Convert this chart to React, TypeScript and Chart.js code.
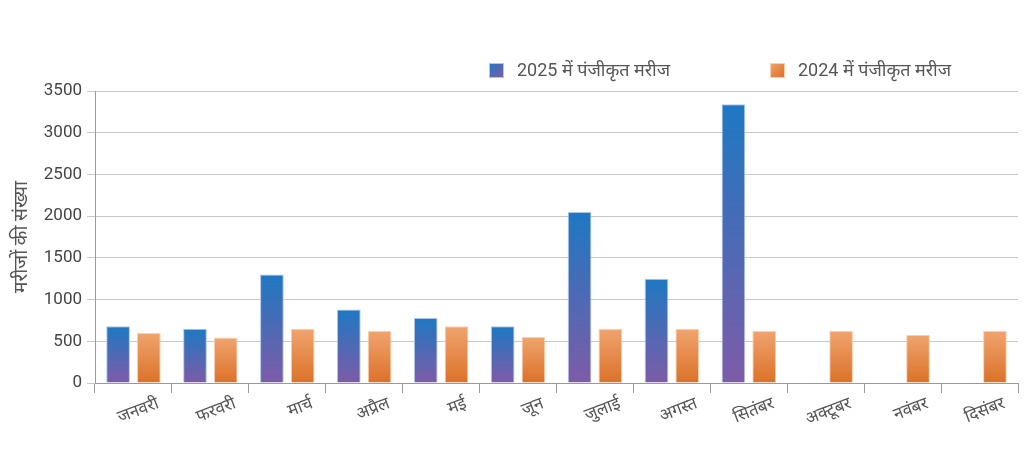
import React, { useEffect, useRef } from "react";
import { Chart, registerables } from "chart.js";

Chart.register(...registerables);

const months = ["जनवरी", "फरवरी", "मार्च", "अप्रैल", "मई", "जून", "जुलाई", "अगस्त", "सितंबर", "अक्टूबर", "नवंबर", "दिसंबर"];
const series2025Label = "2025 में पंजीकृत मरीज";
const series2024Label = "2024 में पंजीकृत मरीज";
const values2025: (number | null)[] = [680, 650, 1300, 880, 780, 680, 2050, 1250, 3340, null, null, null];
const values2024: number[] = [600, 545, 650, 625, 680, 550, 650, 650, 625, 625, 575, 625];
const yTitle = "मरीजों की संख्या";

const FONT = "Roboto, 'Noto Sans', sans-serif";
const C2025 = { top: "#1E78C2", bottom: "#7E5BA7", border: "rgba(170,195,235,0.95)" };
const C2024 = { top: "#F0A46F", bottom: "#DB7128", border: "rgba(250,205,170,0.95)" };

function barGradient(colors: { top: string; bottom: string }) {
  return (ctx: any) => {
    const chart = ctx.chart;
    const area = chart.chartArea;
    if (!area || ctx.type !== "data" || ctx.raw == null) return colors.top;
    const y = chart.scales.y;
    const yTop = y.getPixelForValue(ctx.raw);
    const yBot = y.getPixelForValue(0);
    const g = chart.ctx.createLinearGradient(0, yTop, 0, yBot);
    g.addColorStop(0, colors.top);
    g.addColorStop(1, colors.bottom);
    return g;
  };
}

const legendPlugin = {
  id: "customLegend",
  afterDraw(chart: any) {
    const ctx = chart.ctx;
    const items = [
      { x: 489, label: series2025Label, c: C2025 },
      { x: 770, label: series2024Label, c: C2024 },
    ];
    ctx.save();
    items.forEach((it) => {
      const g = ctx.createLinearGradient(it.x, 63, it.x + 14, 77);
      g.addColorStop(0, it.c.top);
      g.addColorStop(1, it.c.bottom);
      ctx.fillStyle = it.c.border;
      ctx.fillRect(it.x, 63, 15, 15);
      ctx.fillStyle = g;
      ctx.fillRect(it.x + 1, 64, 13, 13);
      ctx.fillStyle = "#555555";
      ctx.font = `18px ${FONT}`;
      ctx.textBaseline = "middle";
      ctx.textAlign = "left";
      ctx.fillText(it.label, it.x + 28, 71);
    });
    ctx.restore();
  },
};

export default function App() {
  const ref = useRef<HTMLCanvasElement | null>(null);
  useEffect(() => {
    if (!ref.current) return;
    const chart = new Chart(ref.current, {
      type: "bar",
      data: {
        labels: months,
        datasets: [
          {
            label: series2025Label,
            data: values2025,
            backgroundColor: barGradient(C2025),
            borderColor: C2025.border,
            borderWidth: 1,
            categoryPercentage: 0.8,
            barPercentage: 0.77,
          },
          {
            label: series2024Label,
            data: values2024,
            backgroundColor: barGradient(C2024),
            borderColor: C2024.border,
            borderWidth: 1,
            categoryPercentage: 0.8,
            barPercentage: 0.77,
          },
        ],
      },
      options: {
        animation: false,
        responsive: false,
        maintainAspectRatio: false,
        layout: { padding: { top: 91, right: 6, left: 0, bottom: 0 } },
        plugins: { legend: { display: false }, tooltip: { enabled: false } },
        scales: {
          x: {
            afterFit: (s: any) => { s.height = 67; },
            border: { color: "#999999", width: 1 },
            grid: { drawOnChartArea: false, drawTicks: true, tickLength: 10, color: "#999999", offset: true },
            ticks: {
              minRotation: 21,
              maxRotation: 21,
              labelOffset: 25,
              padding: 1,
              color: "#555555",
              font: { family: FONT, size: 17 },
              autoSkip: false,
            },
          },
          y: {
            min: 0,
            max: 3500,
            afterFit: (s: any) => { s.width = 95; },
            border: { color: "#999999", width: 1 },
            grid: { color: "#c8c8c8", tickLength: 8, drawTicks: true },
            ticks: {
              stepSize: 500,
              padding: 5,
              color: "#444444",
              font: { family: FONT, size: 17 },
              callback: (v: any) => String(v),
            },
            title: {
              display: true,
              text: yTitle,
              color: "#555555",
              font: { family: FONT, size: 19 },
              padding: { top: 11, bottom: 0 },
            },
          },
        },
      },
      plugins: [legendPlugin],
    });
    return () => chart.destroy();
  }, []);
  return (
    <div style={{ position: "fixed", left: 0, top: 0, width: 1024, height: 450, background: "#fff" }}>
      <canvas ref={ref} width={1024} height={450} style={{ width: 1024, height: 450, display: "block" }} />
    </div>
  );
}
